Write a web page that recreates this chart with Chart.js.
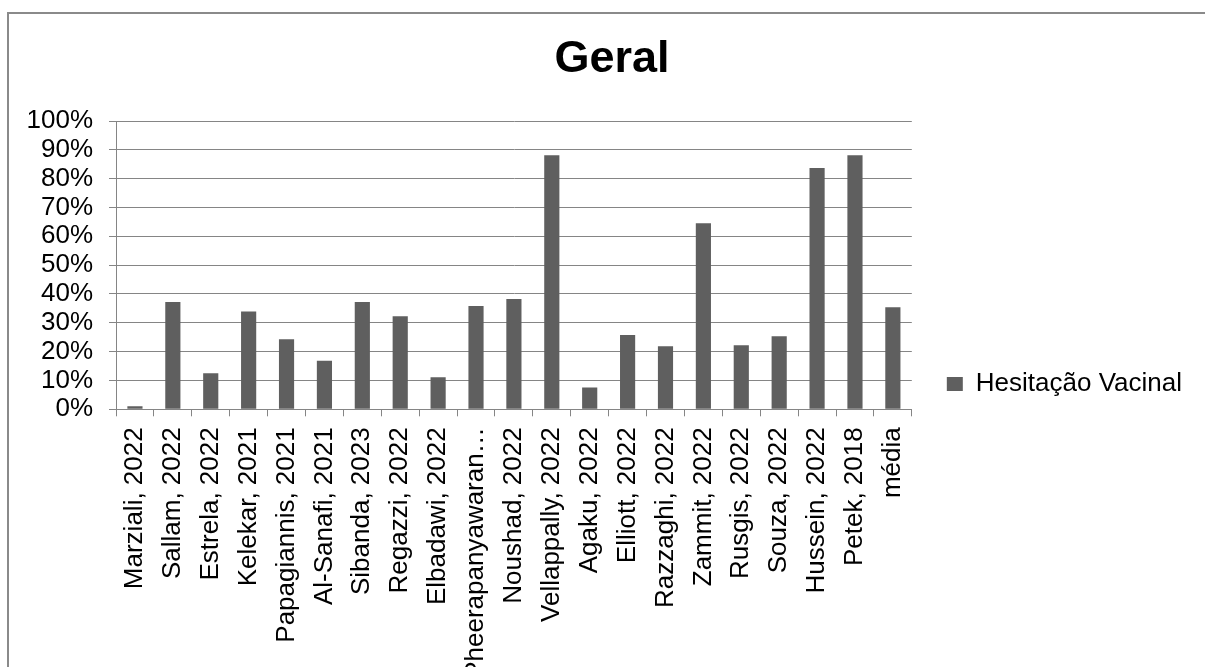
<!DOCTYPE html>
<html>
<head>
<meta charset="utf-8">
<title>Geral</title>
<script src="https://cdn.jsdelivr.net/npm/chart.js@4/dist/chart.umd.min.js"></script>
<style>
  html, body { margin: 0; padding: 0; background: #fff; overflow: hidden; }
  #frame {
    position: absolute;
    left: 7px;
    top: 12px;
    width: 1206px;
    height: 740px;
    border: 2px solid #8a8a8a;
  }
</style>
</head>
<body>
<div id="frame"><canvas id="geral" width="1206" height="740"></canvas></div>
<script>
  // estudos e percentual de hesitação vacinal (%)
  var estudos = [
    "Marziali, 2022", "Sallam, 2022", "Estrela, 2022", "Kelekar, 2021",
    "Papagiannis, 2021", "Al-Sanafi, 2021", "Sibanda, 2023", "Regazzi, 2022",
    "Elbadawi, 2022", "Pheerapanyawaran…", "Noushad, 2022", "Vellappally, 2022",
    "Agaku, 2022", "Elliott, 2022", "Razzaghi, 2022", "Zammit, 2022",
    "Rusgis, 2022", "Souza, 2022", "Hussein, 2022", "Petek, 2018", "média"
  ];
  var hesitacao = [
    1.1, 37.2, 12.5, 33.9, 24.3, 16.8, 37.2, 32.3, 11.1, 35.8, 38.3,
    88.1, 7.6, 25.8, 21.9, 64.5, 22.2, 25.3, 83.7, 88.1, 35.4
  ];
  var serie = "Hesitação Vacinal";

  var cinza = "#858585";

  Chart.defaults.font.family = 'Arial, "Liberation Sans", sans-serif';
  Chart.defaults.color = "#000";

  // título centralizado na largura toda do canvas (ignora o padding da direita)
  var tituloCentrado = {
    id: "tituloCentrado",
    afterLayout: function (chart) {
      if (chart.titleBlock) {
        chart.titleBlock.left = 0;
        chart.titleBlock.right = chart.width;
      }
    }
  };

  var ctx = document.getElementById("geral").getContext("2d");
  var grafico = new Chart(ctx, {
    type: "bar",
    data: {
      labels: estudos,
      datasets: [{
        label: serie,
        data: hesitacao,
        backgroundColor: "#5f5f5f",
        categoryPercentage: 1,
        barPercentage: 0.4
      }]
    },
    options: {
      responsive: false,
      animation: false,
      layout: { padding: { right: 23 } },
      plugins: {
        title: {
          display: true,
          text: "Geral",
          font: { size: 45, weight: "bold" },
          padding: { top: 19, bottom: 34 }
        },
        legend: {
          position: "right",
          labels: {
            boxWidth: 16,
            boxHeight: 14,
            padding: 35,
            font: { size: 26 }
          }
        },
        tooltip: { enabled: false }
      },
      scales: {
        x: {
          grid: { drawOnChartArea: false, color: cinza, tickLength: 7 },
          border: { color: cinza },
          ticks: {
            minRotation: 90,
            maxRotation: 90,
            autoSkip: false,
            padding: 11,
            font: { size: 26 }
          },
          afterFit: function (escala) { escala.height = 344.7; }
        },
        y: {
          min: 0,
          max: 100,
          grid: { color: cinza, tickLength: 7 },
          border: { color: cinza },
          ticks: {
            stepSize: 10,
            autoSkip: false,
            padding: 16,
            font: { size: 26 },
            callback: function (v) { return v + "%"; }
          },
          afterFit: function (escala) { escala.width = 107; }
        }
      }
    },
    plugins: [tituloCentrado]
  });
</script>
</body>
</html>
